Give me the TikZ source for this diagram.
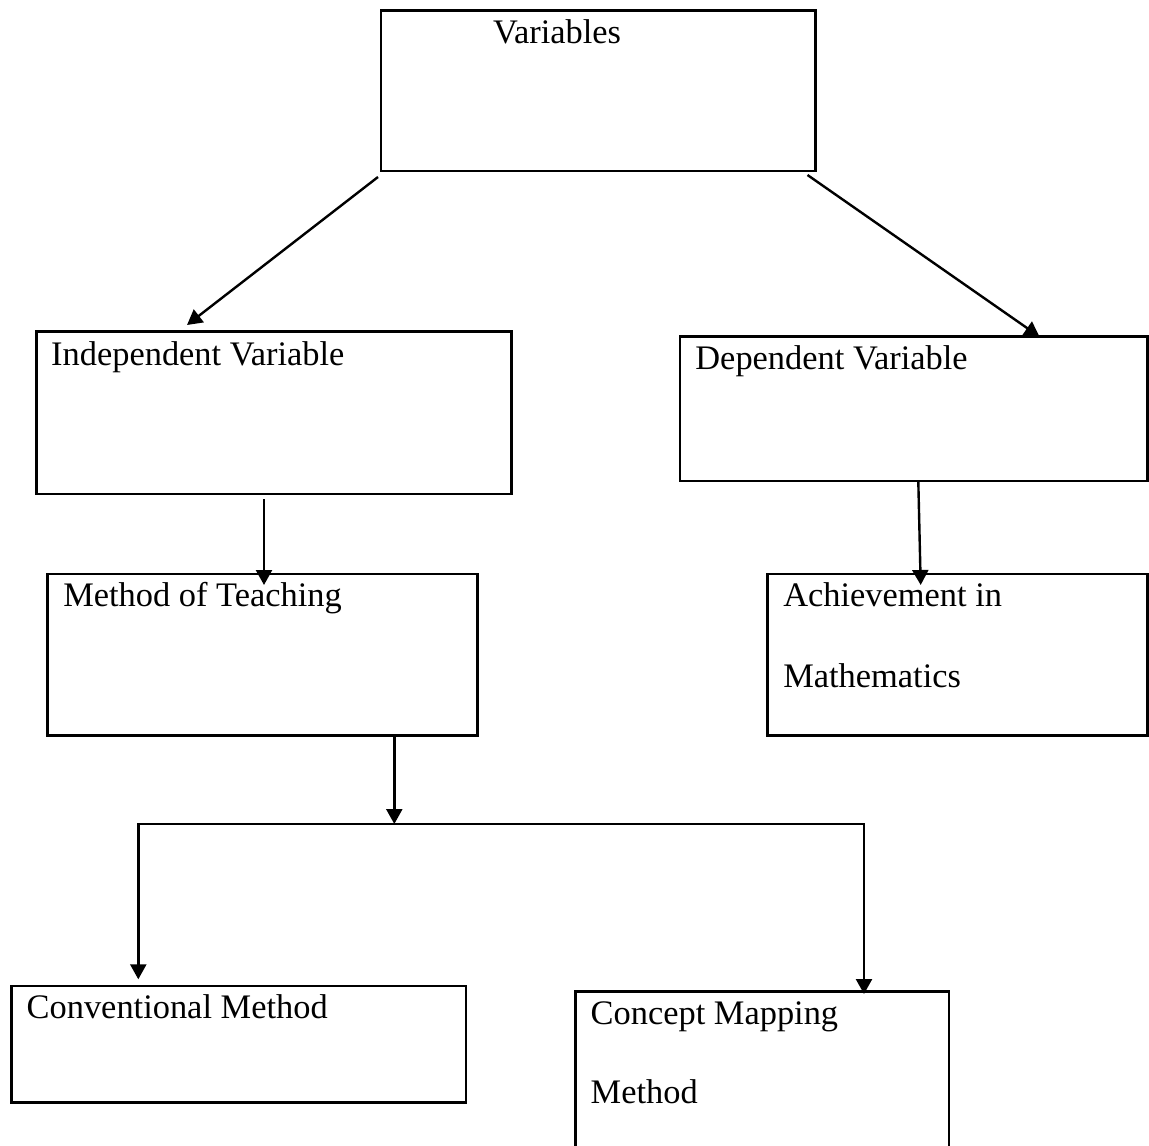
\documentclass[tikz,border=0pt]{standalone}
\usepackage{fontspec}
\setmainfont{Liberation Serif}
\usetikzlibrary{arrows.meta}
\begin{document}
\begin{tikzpicture}[x=1pt,y=-1pt,
  box/.style={draw, line width=2.5pt, inner sep=0pt, outer sep=0pt, anchor=north west},
  lbl/.style={anchor=base west, inner sep=0pt, outer sep=0pt, font=\fontsize{34.4pt}{40pt}\selectfont},
  arr/.style={line width=2.4pt, -{Triangle[length=15pt,width=16pt]}}]
\fill[white] (0,0) rectangle (1149,1146);
\useasboundingbox (0,0) rectangle (1149,1146);
\clip (0,0) rectangle (1149,1146);

% boxes
\node[box, minimum width=434.5pt, minimum height=160.3pt] (var)  at (381,10.7) {};
\node[box, minimum width=474.6pt, minimum height=162.3pt] (ind)  at (36.7,331.7) {};
\node[box, minimum width=467.5pt, minimum height=144.3pt] (dep)  at (680,336.7) {};
\node[box, minimum width=429.6pt, minimum height=161.7pt] (met)  at (47.7,574) {};
\node[box, minimum width=379.8pt, minimum height=161.7pt] (ach)  at (767.7,574) {};
\node[box, minimum width=454.3pt, minimum height=116.7pt] (conv) at (11.7,986) {};
\node[box, minimum width=373.3pt, minimum height=170pt]   (conc) at (575.7,991.7) {};

% labels
\node[lbl] (tvar)  at ([shift={(112,32.6)}]var.north west) {Variables};
\node[lbl] (tind)  at ([shift={(14.5,33.3)}]ind.north west) {Independent Variable};
\node[lbl] (tdep)  at ([shift={(15.4,32.3)}]dep.north west) {Dependent Variable};
\node[lbl] (tmet)  at ([shift={(15.6,32.7)}]met.north west) {Method of Teaching};
\node[lbl] (tach1) at ([shift={(15.6,32.7)}]ach.north west) {Achievement in};
\node[lbl] (tach2) at ([shift={(15.6,113.3)}]ach.north west) {Mathematics};
\node[lbl] (tconv) at ([shift={(15,32.3)}]conv.north west) {Conventional Method};
\node[lbl] (tcon1) at ([shift={(15,32.3)}]conc.north west) {Concept Mapping};
\node[lbl] (tcon2) at ([shift={(15,111.6)}]conc.north west) {Method};

% connectors
\draw[arr] ([shift={(-3,6)}]var.south west) -- ([shift={(150.3,-6.7)}]ind.north west);
\draw[arr] ([shift={(-8,4)}]var.south east) -- ([shift={(359.5,0)}]dep.north west);
\draw[arr] ([shift={(227.3,5)}]ind.south west) -- ([shift={(216.3,11)}]met.north west);
\draw[arr] ([shift={(238.3,0)}]dep.south west) -- ([shift={(153,11)}]ach.north west);
\coordinate (jn) at ([shift={(346.6,88.3)}]met.south west);
\draw[arr] ([shift={(346.6,0)}]met.south west) -- (jn);
\draw[arr] (jn) -| ([shift={(126.6,-6.7)}]conv.north west);
\draw[arr] (jn) -| ([shift={(288.3,2.3)}]conc.north west);
\end{tikzpicture}
\end{document}
